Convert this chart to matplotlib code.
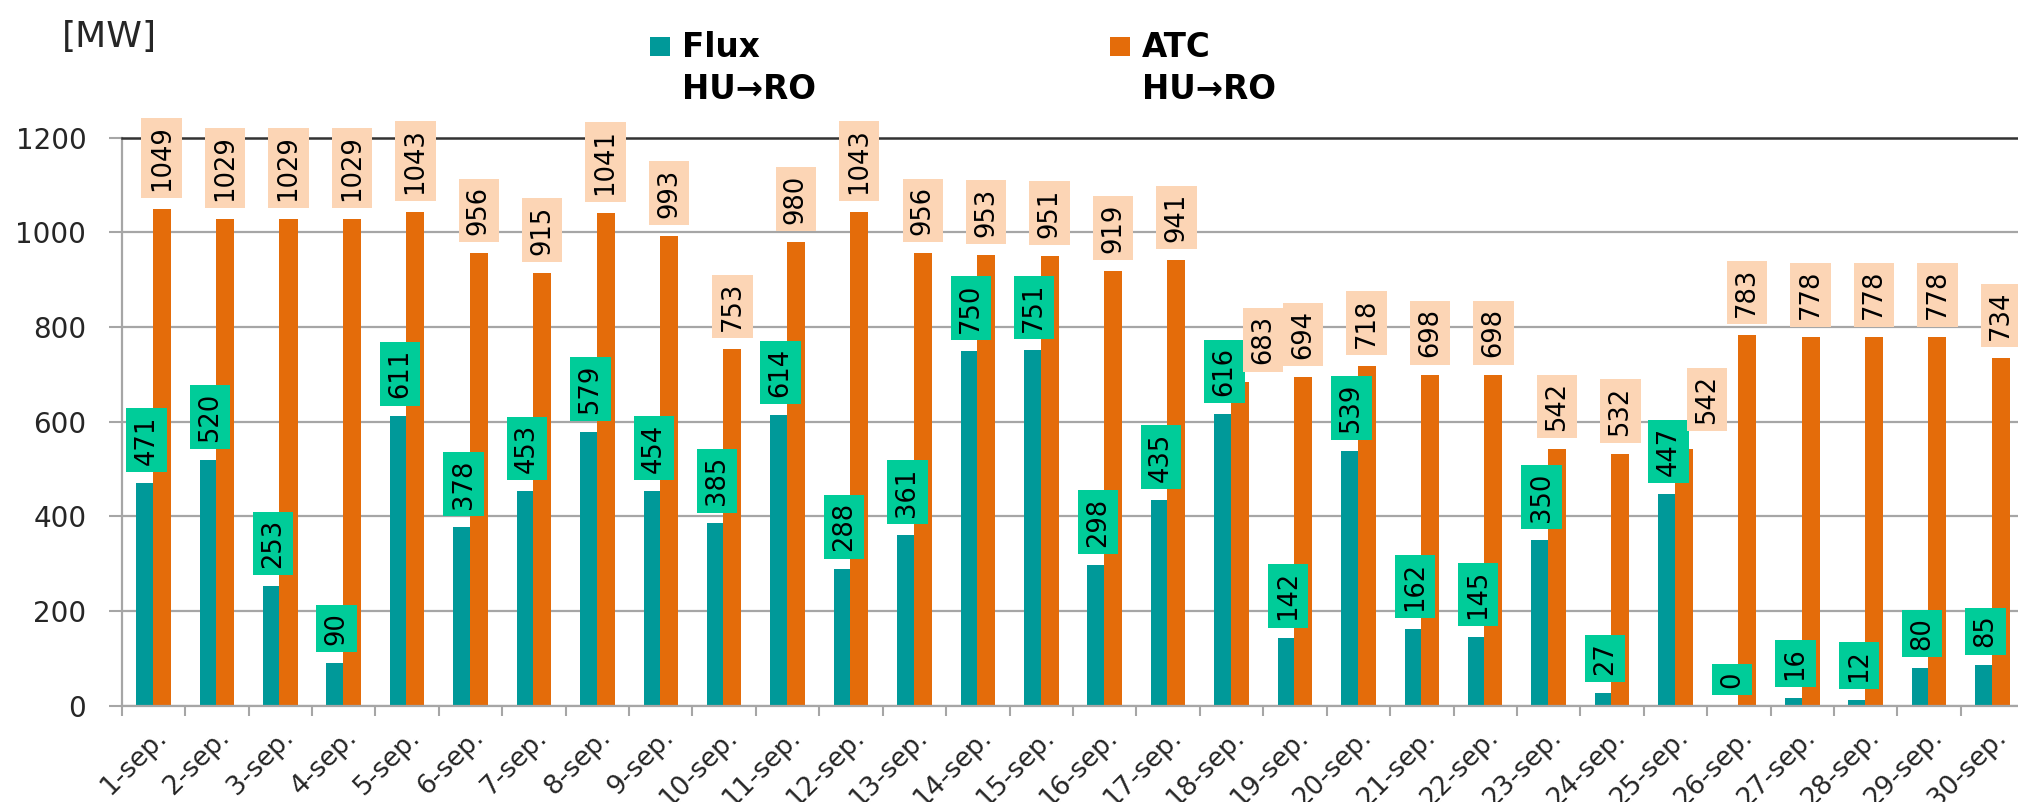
#!/usr/bin/env python3
"""Daily Flux vs ATC on the HU->RO border, September."""

from __future__ import annotations

import matplotlib

matplotlib.use("Agg")
import matplotlib.pyplot as plt  # noqa: E402
from matplotlib.patches import Rectangle  # noqa: E402

DAYS = [f"{day}-sep." for day in range(1, 31)]
FLUX_MW = [471, 520, 253, 90, 611, 378, 453, 579, 454, 385, 614, 288, 361, 750, 751,
           298, 435, 616, 142, 539, 162, 145, 350, 27, 447, 0, 16, 12, 80, 85]
ATC_MW = [1049, 1029, 1029, 1029, 1043, 956, 915, 1041, 993, 753, 980, 1043, 956, 953, 951,
          919, 941, 683, 694, 718, 698, 698, 542, 532, 542, 783, 778, 778, 778, 734]
Y_TICKS = [0, 200, 400, 600, 800, 1000, 1200]

# a couple of ATC labels were nudged by hand in the original (pixel offsets)
ATC_LABEL_SHIFT = {17: (23, 0), 24: (23, 7)}

TEAL = "#009999"
ORANGE = "#E46C0A"
GREEN_BOX = "#00CC99"
PEACH_BOX = "#FCD5B5"
GRID = "#A6A6A6"
TEXT = "#262626"

W, H = 2018, 802


def main() -> int:
    plt.rcParams["font.family"] = ["DejaVu Sans"]
    fig = plt.figure(figsize=(W / 100, H / 100), dpi=100)
    left, right, bottom, top = 121.7, 2024.3, 705.7, 137.7
    ax = fig.add_axes((left / W, 1 - bottom / H, (right - left) / W, (bottom - top) / H))

    x = list(range(len(DAYS)))
    ax.bar([i - 0.272 for i in x], FLUX_MW, width=0.26, align="edge", color=TEAL, zorder=2)
    ax.bar([i - 0.012 for i in x], ATC_MW, width=0.284, align="edge", color=ORANGE, zorder=2)

    box = dict(boxstyle="square,pad=0.28", linewidth=0)
    for i, value in enumerate(FLUX_MW):
        ax.annotate(str(value), (i - 0.142, value), xytext=(2, 18), textcoords="offset pixels",
                    rotation=90, ha="center", va="bottom", fontsize=18.5, color="black",
                    bbox={**box, "facecolor": GREEN_BOX}, annotation_clip=False, zorder=4)
    for i, value in enumerate(ATC_MW):
        dx, dy = ATC_LABEL_SHIFT.get(i, (0, 0))
        ax.annotate(str(value), (i + 0.13, value), xytext=(dx, 18 + dy), textcoords="offset pixels",
                    rotation=90, ha="center", va="bottom", fontsize=18.5, color="black",
                    bbox={**box, "facecolor": PEACH_BOX}, annotation_clip=False, zorder=4)

    ax.set_xlim(-0.5, len(DAYS) - 0.5)
    ax.set_ylim(0, 1200)
    ax.set_yticks(Y_TICKS)
    ax.set_yticklabels([str(v) for v in Y_TICKS], fontsize=20, color=TEXT)
    ax.set_xticks(x)
    ax.set_xticklabels(DAYS, fontsize=19, color=TEXT, rotation=45, ha="right", va="top",
                       rotation_mode="anchor")
    ax.set_xticks([i - 0.5 for i in range(len(DAYS) + 1)], minor=True)
    ax.tick_params(axis="x", which="major", length=0, pad=13)
    ax.tick_params(axis="x", which="minor", length=7, width=1.5, color=GRID)
    ax.tick_params(axis="y", length=9.5, width=1.5, color=GRID, pad=16)

    ax.grid(axis="y", color=GRID, linewidth=1.6)
    ax.set_axisbelow(True)
    for side in ("left", "bottom"):
        ax.spines[side].set_color(GRID)
        ax.spines[side].set_linewidth(1.6)
    ax.spines["right"].set_visible(False)
    ax.spines["top"].set_color("#333333")
    ax.spines["top"].set_linewidth(1.8)

    fig.text(62 / W, 1 - 47 / H, "[MW]", fontsize=26, color=TEXT, va="baseline")

    for sq_x, txt_x, color, name in ((650, 681.7, TEAL, "Flux"), (1110, 1141.7, ORANGE, "ATC")):
        fig.patches.append(Rectangle((sq_x / W, 1 - 56 / H), 20 / W, 19 / H,
                                     transform=fig.transFigure, facecolor=color,
                                     edgecolor="none", figure=fig))
        fig.text(txt_x / W, 1 - 57 / H, name, fontsize=23.5, fontweight="bold",
                 color="black", va="baseline")
        fig.text(txt_x / W, 1 - 99 / H, "HU\u2192RO", fontsize=23.5, fontweight="bold",
                 color="black", va="baseline")

    fig.savefig("out.png", dpi=100)
    plt.close(fig)
    return 0


if __name__ == "__main__":
    raise SystemExit(main())
